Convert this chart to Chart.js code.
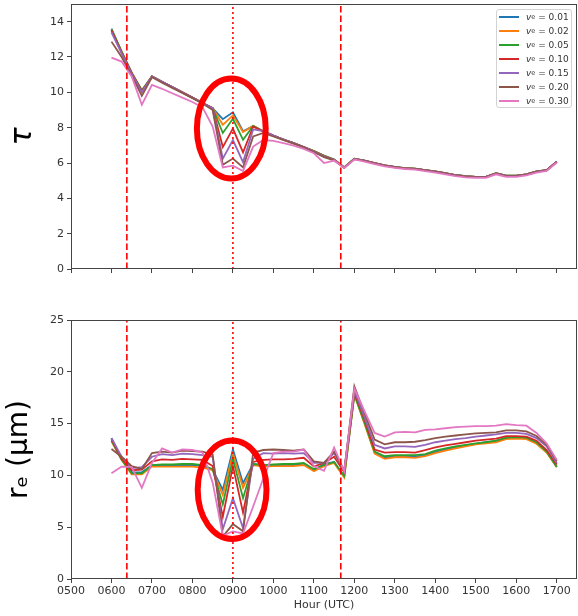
<!DOCTYPE html>
<html>
<head>
<meta charset="utf-8">
<script src="https://cdn.jsdelivr.net/npm/chart.js"></script>
<style>
  body { margin: 0; background: #fff; }
  #wrap { position: relative; width: 578px; height: 616px; overflow: hidden; font-family: "DejaVu Sans", sans-serif; }
  canvas { position: absolute; left: 0; }
  #legend { position: absolute; left: 496px; top: 9px; width: 76px; height: 99px; border: 1px solid #d3d3d3;
            border-radius: 3px; background: rgba(255,255,255,0.85); box-sizing: border-box; padding-top: 0px; }
  .row { height: 14px; display: flex; align-items: center; font-size: 9px; color: #333; white-space: nowrap; }
  .sw { width: 20px; height: 2px; margin-left: 2px; margin-right: 7px; flex: none; }
  .row sub { font-size: 6.5px; vertical-align: -1px; }
</style>
</head>
<body>
<div id="wrap">
  <canvas id="tau" width="578" height="285" style="top:0"></canvas>
  <canvas id="re" width="578" height="326" style="top:290px"></canvas>
  <div id="legend"></div>
</div>
<script>
// time axis, every 15 minutes
const hours = [6, 6.25, 6.5, 6.75, 7, 7.25, 7.5, 7.75, 8, 8.25, 8.5, 8.75, 9, 9.25, 9.5, 9.75,
  10, 10.25, 10.5, 10.75, 11, 11.25, 11.5, 11.75, 12, 12.25, 12.5, 12.75, 13, 13.25, 13.5, 13.75,
  14, 14.25, 14.5, 14.75, 15, 15.25, 15.5, 15.75, 16, 16.25, 16.5, 16.75, 17];
const hourTicks = [5, 6, 7, 8, 9, 10, 11, 12, 13, 14, 15, 16, 17];
const hourLabels = ['0500', '0600', '0700', '0800', '0900', '1000', '1100', '1200', '1300', '1400', '1500', '1600', '1700'];
const tauTicks = [0, 2, 4, 6, 8, 10, 12, 14];
const reTicks = [0, 5, 10, 15, 20, 25];

const veLabels = ['0.01', '0.02', '0.05', '0.10', '0.15', '0.20', '0.30'];
const colors = ['#1f77b4', '#ff7f0e', '#2ca02c', '#d62728', '#9467bd', '#8c564b', '#e377c2'];

// optical depth
const tau001 = [13.6, 12.3, 11.1, 10.1, 10.9, 10.6, 10.3, 10.0, 9.7, 9.4, 9.1, 8.48, 8.87, 7.8, 8.1, 7.8,
  7.55, 7.33, 7.12, 6.9, 6.68, 6.42, 6.2, 5.75, 6.24, 6.14, 6.0, 5.87, 5.78, 5.71, 5.68, 5.6,
  5.52, 5.42, 5.32, 5.25, 5.22, 5.22, 5.42, 5.28, 5.28, 5.36, 5.52, 5.6, 6.08];
const tau002 = [13.55, 12.3, 11.1, 10.1, 10.9, 10.6, 10.3, 10.0, 9.7, 9.4, 9.1, 8.16, 8.7, 7.75, 8.1, 7.8,
  7.55, 7.33, 7.12, 6.9, 6.68, 6.41, 6.2, 5.75, 6.24, 6.14, 6.0, 5.87, 5.78, 5.71, 5.68, 5.6,
  5.52, 5.42, 5.32, 5.25, 5.22, 5.22, 5.42, 5.28, 5.28, 5.36, 5.52, 5.6, 6.08];
const tau005 = [13.55, 12.3, 11.1, 10.1, 10.9, 10.6, 10.3, 10.0, 9.7, 9.4, 9.1, 7.7, 8.5, 7.31, 8.1, 7.8,
  7.55, 7.33, 7.12, 6.9, 6.67, 6.4, 6.2, 5.75, 6.24, 6.14, 6.0, 5.87, 5.78, 5.71, 5.68, 5.6,
  5.52, 5.42, 5.32, 5.25, 5.22, 5.22, 5.42, 5.28, 5.28, 5.36, 5.52, 5.6, 6.08];
const tau010 = [13.5, 12.25, 11.1, 10.05, 10.9, 10.6, 10.3, 10.0, 9.7, 9.4, 9.1, 6.9, 7.95, 6.6, 8.05, 7.8,
  7.55, 7.33, 7.12, 6.9, 6.66, 6.38, 6.18, 5.74, 6.23, 6.13, 5.99, 5.86, 5.77, 5.7, 5.67, 5.59,
  5.51, 5.41, 5.31, 5.24, 5.21, 5.21, 5.41, 5.27, 5.27, 5.35, 5.51, 5.59, 6.07];
const tau015 = [13.4, 12.2, 11.05, 10.0, 10.9, 10.6, 10.3, 10.0, 9.7, 9.4, 9.1, 6.25, 7.3, 6.05, 7.9, 7.8,
  7.55, 7.33, 7.12, 6.9, 6.65, 6.36, 6.17, 5.74, 6.23, 6.13, 5.99, 5.86, 5.77, 5.7, 5.67, 5.59,
  5.51, 5.41, 5.31, 5.24, 5.21, 5.21, 5.41, 5.27, 5.27, 5.35, 5.51, 5.59, 6.07];
const tau020 = [12.87, 12.0, 10.95, 9.8, 10.85, 10.55, 10.25, 9.97, 9.67, 9.37, 9.0, 5.9, 6.25, 5.75, 7.5, 7.7,
  7.5, 7.3, 7.1, 6.88, 6.62, 6.33, 6.15, 5.73, 6.22, 6.12, 5.98, 5.85, 5.76, 5.69, 5.66, 5.58,
  5.5, 5.4, 5.3, 5.23, 5.2, 5.2, 5.4, 5.26, 5.26, 5.34, 5.5, 5.58, 6.06];
const tau030 = [11.96, 11.74, 10.9, 9.3, 10.42, 10.2, 9.95, 9.7, 9.45, 9.15, 8.06, 5.75, 5.85, 5.55, 6.93, 7.3,
  7.25, 7.12, 6.98, 6.8, 6.55, 6.0, 6.14, 5.72, 6.2, 6.08, 5.94, 5.81, 5.72, 5.66, 5.62, 5.54,
  5.46, 5.36, 5.26, 5.19, 5.16, 5.16, 5.36, 5.22, 5.22, 5.3, 5.46, 5.55, 6.03];

// effective radius (um)
const re001 = [13.6, 11.6, 10.3, 10.3, 11.0, 11.0, 11.0, 11.0, 11.0, 10.9, 10.55, 8.6, 12.5, 9.25, 11.1, 11.0,
  11.0, 11.0, 11.0, 11.1, 10.5, 11.1, 11.3, 9.9, 17.9, 15.1, 12.2, 11.7, 11.85, 11.85, 11.8, 11.95,
  12.25, 12.5, 12.7, 12.9, 13.05, 13.2, 13.3, 13.6, 13.65, 13.6, 13.1, 12.25, 10.85];
const re002 = [13.3, 11.5, 10.1, 10.1, 10.85, 10.85, 10.85, 10.85, 10.85, 10.75, 10.5, 8.1, 12.1, 8.8, 11.0, 10.85,
  10.9, 10.9, 10.9, 11.0, 10.4, 10.9, 11.2, 9.8, 17.8, 15.0, 12.1, 11.6, 11.75, 11.75, 11.7, 11.85,
  12.15, 12.4, 12.6, 12.8, 13.0, 13.1, 13.2, 13.5, 13.55, 13.5, 13.05, 12.2, 10.8];
const re005 = [13.35, 11.5, 10.2, 10.2, 11.0, 11.05, 11.05, 11.1, 11.1, 11.0, 10.6, 7.2, 11.6, 7.8, 11.1, 11.0,
  11.05, 11.1, 11.1, 11.2, 10.6, 11.0, 11.3, 9.95, 17.8, 15.1, 12.3, 11.85, 11.95, 11.95, 11.95, 12.05,
  12.4, 12.6, 12.8, 12.95, 13.1, 13.2, 13.35, 13.65, 13.7, 13.65, 13.2, 12.3, 10.8];
const re010 = [13.5, 11.6, 10.5, 10.55, 11.35, 11.55, 11.5, 11.6, 11.55, 11.5, 10.9, 6.0, 10.9, 6.4, 11.3, 11.5,
  11.55, 11.55, 11.6, 11.7, 10.85, 11.2, 11.8, 10.3, 18.0, 15.4, 12.5, 12.2, 12.25, 12.25, 12.2, 12.45,
  12.7, 12.9, 13.05, 13.2, 13.35, 13.45, 13.55, 13.8, 13.8, 13.75, 13.35, 12.45, 11.05];
const re015 = [13.6, 11.8, 10.7, 10.8, 11.8, 12.05, 11.95, 12.1, 12.05, 11.95, 11.8, 4.8, 7.8, 4.9, 11.6, 12.15,
  12.1, 12.15, 12.1, 12.15, 11.2, 11.2, 12.15, 10.5, 18.2, 15.6, 12.95, 12.6, 12.8, 12.8, 12.75, 12.95,
  13.2, 13.35, 13.5, 13.6, 13.75, 13.85, 13.95, 14.1, 14.1, 14.0, 13.6, 12.8, 11.2];
const re020 = [12.55, 11.8, 10.9, 10.6, 12.15, 12.3, 12.2, 12.4, 12.35, 12.3, 12.0, 4.1, 5.3, 4.6, 12.2, 12.45,
  12.5, 12.45, 12.4, 12.5, 11.35, 11.2, 12.3, 10.4, 18.6, 16.0, 13.45, 13.0, 13.2, 13.2, 13.25, 13.4,
  13.6, 13.75, 13.85, 13.95, 14.05, 14.1, 14.15, 14.35, 14.35, 14.25, 13.8, 12.95, 11.4];
const re030 = [10.2, 10.85, 10.8, 8.8, 11.2, 12.6, 12.2, 12.5, 12.45, 12.2, 9.3, 4.2, 4.6, 4.4, 7.0, 9.7,
  12.15, 12.3, 12.3, 12.5, 10.9, 10.45, 12.7, 10.4, 18.4, 16.2, 14.1, 13.75, 14.15, 14.2, 14.15, 14.4,
  14.45, 14.55, 14.65, 14.7, 14.75, 14.75, 14.8, 14.95, 14.85, 14.8, 14.1, 13.1, 11.5];

const tauSeries = [tau001, tau002, tau005, tau010, tau015, tau020, tau030];
const reSeries = [re001, re002, re005, re010, re015, re020, re030];

// vertical reference lines (hour)
const dashedHours = [6.38, 11.665];
const dottedHours = [9.0];

const framePlugin = {
  id: 'frame',
  afterDraw(chart) {
    const a = chart.chartArea, ctx = chart.ctx;
    ctx.save();
    ctx.strokeStyle = '#444';
    ctx.lineWidth = 1;
    ctx.strokeRect(Math.round(a.left) + 0.5, Math.round(a.top) + 0.5,
      Math.round(a.right - a.left) - 1, Math.round(a.bottom - a.top) - 1);
    ctx.restore();
  }
};

const ellipsePlugin = {
  id: 'ellipse',
  afterDatasetsDraw(chart, args, opts) {
    if (!opts || opts.x === undefined) return;
    const xs = chart.scales.x, ys = chart.scales.y, ctx = chart.ctx;
    const cx = xs.getPixelForValue(opts.x), cy = ys.getPixelForValue(opts.y);
    const rx = Math.abs(xs.getPixelForValue(opts.x + opts.rx) - cx);
    const ry = Math.abs(ys.getPixelForValue(opts.y + opts.ry) - cy);
    ctx.save();
    ctx.beginPath();
    ctx.ellipse(cx, cy, rx, ry, 0, 0, Math.PI * 2);
    ctx.lineWidth = 6;
    ctx.strokeStyle = '#ff0000';
    ctx.stroke();
    ctx.restore();
  }
};

function vline(h, yMax, dash) {
  return {
    data: [{ x: h, y: 0 }, { x: h, y: yMax }],
    borderColor: '#ff0000', borderWidth: 1.6, borderDash: dash,
    pointRadius: 0, order: -1
  };
}

function makeChart(id, series, yMax, yTicks, yTitle, titleFont, titlePad, showX, xHeight, padTop, ell) {
  const datasets = series.map((s, i) => ({
    label: 'v_e = ' + veLabels[i],
    data: hours.map((h, j) => ({ x: h, y: s[j] })),
    borderColor: colors[i],
    borderWidth: 1.8,
    pointRadius: 0,
    tension: 0,
    order: series.length - i
  }));
  dashedHours.forEach(h => datasets.push(vline(h, yMax, [6.5, 3])));
  dottedHours.forEach(h => datasets.push(vline(h, yMax, [2, 3])));

  return new Chart(document.getElementById(id), {
    type: 'line',
    data: { datasets },
    options: {
      responsive: false,
      animation: false,
      layout: { padding: { top: padTop, right: 1, left: 0, bottom: 0 } },
      plugins: {
        legend: { display: false },
        tooltip: { enabled: false },
        ellipse: ell
      },
      scales: {
        x: {
          type: 'linear', min: 5, max: 17.5,
          afterBuildTicks: s => { s.ticks = hourTicks.map(v => ({ value: v })); },
          afterFit: s => { s.height = xHeight; s.paddingLeft = 0; s.paddingRight = 0; },
          grid: { drawOnChartArea: false, drawTicks: true, tickLength: 4, color: '#444' },
          border: { display: false },
          ticks: {
            autoSkip: false, maxRotation: 0, padding: 2, color: '#333',
            font: { family: 'DejaVu Sans', size: 11 },
            callback: v => showX ? hourLabels[hourTicks.indexOf(v)] : ''
          },
          title: {
            display: showX, text: 'Hour (UTC)', color: '#333',
            font: { family: 'DejaVu Sans', size: 11 }, padding: { top: 0, bottom: 4 }
          }
        },
        y: {
          min: 0, max: yMax,
          afterBuildTicks: s => { s.ticks = yTicks.map(v => ({ value: v })); },
          afterFit: s => { s.width = 71; s.paddingTop = 0; s.paddingBottom = 0; },
          grid: { drawOnChartArea: false, drawTicks: true, tickLength: 4, color: '#444' },
          border: { display: false },
          ticks: { padding: 3, color: '#333', font: { family: 'DejaVu Sans', size: 11 } },
          title: { display: true, text: yTitle, color: '#000', font: titleFont, padding: { top: titlePad, bottom: 0 } }
        }
      }
    },
    plugins: [framePlugin, ellipsePlugin]
  });
}

makeChart('tau', tauSeries, 15, tauTicks, 'τ',
  { family: 'DejaVu Sans', size: 30, style: 'italic' }, 5, false, 16, 4,
  { x: 8.96, y: 7.95, rx: 0.85, ry: 2.83 });

makeChart('re', reSeries, 25, reTicks, 'rₑ (μm)',
  { family: 'DejaVu Sans', size: 28 }, 3, true, 37, 30,
  { x: 8.98, y: 8.61, rx: 0.85, ry: 4.75 });

// legend box (top panel, upper right)
const legend = document.getElementById('legend');
veLabels.forEach((v, i) => {
  const row = document.createElement('div');
  row.className = 'row';
  row.innerHTML = '<span class="sw" style="background:' + colors[i] + '"></span><i>v</i><sub>e</sub>&nbsp;=&nbsp;' + v;
  legend.appendChild(row);
});
</script>
</body>
</html>
